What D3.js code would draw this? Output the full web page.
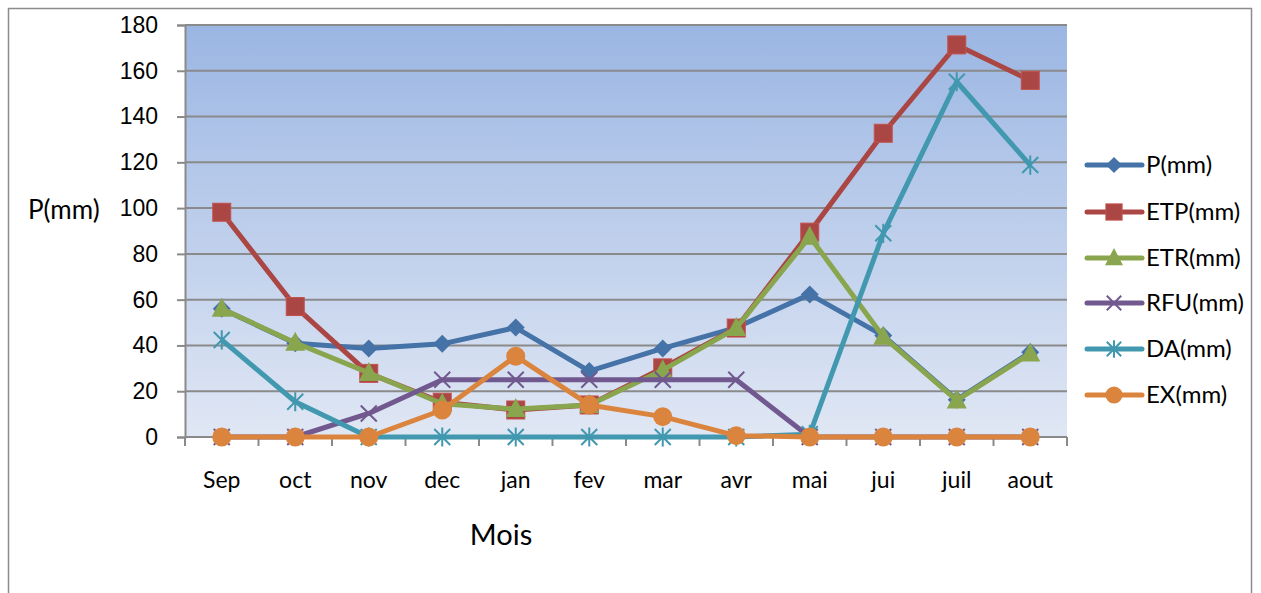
<!DOCTYPE html>
<html>
<head>
<meta charset="utf-8">
<script src="https://cdn.jsdelivr.net/npm/d3@7"></script>
<style>
  html, body { margin: 0; padding: 0; background: #fff; }
  svg { display: block; font-family: Lato, "Open Sans", "Liberation Sans", sans-serif; }
</style>
</head>
<body>
<svg id="chart" width="1261" height="593"></svg>
<script>
// Monthly water balance (mm)
const months = ["Sep", "oct", "nov", "dec", "jan", "fev", "mar", "avr", "mai", "jui", "juil", "aout"];
const P   = [56, 41, 38.7, 40.7, 47.8, 28.8, 38.7, 47.8, 62.3, 44.3, 16.3, 37];
const ETP = [98.2, 57, 27.8, 15.2, 11.8, 14, 30.2, 47.6, 89.5, 132.7, 171.3, 155.8];
const ETR = [56, 41.2, 28, 14.5, 12.2, 14, 29.2, 47.6, 87.5, 43.8, 16, 36.5];
const RFU = [0, 0, 10.3, 25, 25, 25, 25, 25, 0, 0, 0, 0];
const DA  = [42.4, 15.4, 0, 0, 0, 0, 0, 0, 1.2, 89, 155.2, 118.8];
const EX  = [0, 0, 0, 11.8, 35.3, 14, 8.9, 0.6, 0, 0, 0, 0];
const yTicks = [0, 20, 40, 60, 80, 100, 120, 140, 160, 180];

const series = [
  { name: "P(mm)",   values: P,   color: "#4572a7", marker: "diamond" },
  { name: "ETP(mm)", values: ETP, color: "#aa4643", marker: "square" },
  { name: "ETR(mm)", values: ETR, color: "#89a54e", marker: "triangle" },
  { name: "RFU(mm)", values: RFU, color: "#71588f", marker: "x" },
  { name: "DA(mm)",  values: DA,  color: "#4198af", marker: "star" },
  { name: "EX(mm)",  values: EX,  color: "#db843d", marker: "circle" }
];

const svg = d3.select("#chart");
const plot = { left: 185, right: 1067, top: 25, bottom: 437 };

// outer chart frame
svg.append("rect")
  .attr("x", 8.5).attr("y", 8.5).attr("width", 1243).attr("height", 600)
  .attr("fill", "#fff").attr("stroke", "#8c8c8c").attr("stroke-width", 1.5);

const x = d3.scaleBand().domain(months).range([plot.left, plot.right]).padding(0);
const y = d3.scaleLinear().domain([0, 180]).range([plot.bottom, plot.top]);
const cx = m => x(m) + x.bandwidth() / 2;

// plot area gradient
const defs = svg.append("defs");
const grad = defs.append("linearGradient").attr("id", "bg").attr("x1", 0).attr("y1", 0).attr("x2", 0).attr("y2", 1);
grad.append("stop").attr("offset", "0%").attr("stop-color", "#9bb6e3");
grad.append("stop").attr("offset", "100%").attr("stop-color", "#e0e7f4");

svg.append("rect")
  .attr("x", plot.left).attr("y", plot.top)
  .attr("width", plot.right - plot.left).attr("height", plot.bottom - plot.top)
  .attr("fill", "url(#bg)");

// horizontal gridlines
svg.append("g").selectAll("line").data(yTicks.filter(d => d > 0)).join("line")
  .attr("x1", plot.left).attr("x2", plot.right)
  .attr("y1", d => y(d)).attr("y2", d => y(d))
  .attr("stroke", "#8a8a8a").attr("stroke-width", 2);

// y axis
const yAxis = d3.axisLeft(y).tickValues(yTicks).tickSize(8).tickPadding(19);
const gy = svg.append("g").attr("transform", `translate(${plot.left},0)`).call(yAxis);
gy.select(".domain").attr("stroke", "#8a8a8a").attr("stroke-width", 2);
gy.selectAll(".tick line").attr("stroke", "#8a8a8a").attr("stroke-width", 2);
gy.selectAll(".tick text").attr("font-size", 23).attr("fill", "#000").attr("font-family", "inherit");

// x axis: ticks sit between categories
const gx = svg.append("g").attr("transform", `translate(0,${plot.bottom})`);
gx.append("line").attr("x1", plot.left).attr("x2", plot.right)
  .attr("y1", 0).attr("y2", 0).attr("stroke", "#8a8a8a").attr("stroke-width", 2);
const bounds = months.map(m => x(m)).concat([plot.right]);
gx.selectAll("line.tk").data(bounds).join("line").attr("class", "tk")
  .attr("x1", d => d).attr("x2", d => d).attr("y1", 0).attr("y2", 9)
  .attr("stroke", "#8a8a8a").attr("stroke-width", 2);
gx.selectAll("text").data(months).join("text")
  .attr("x", d => cx(d)).attr("y", 51)
  .attr("text-anchor", "middle").attr("font-size", 23).attr("fill", "#000")
  .text(d => d);

// axis titles
svg.append("text").attr("x", 501).attr("y", 545).attr("text-anchor", "middle")
  .attr("font-size", 29).attr("fill", "#000").text("Mois");
svg.append("text").attr("x", 28).attr("y", 219)
  .attr("font-size", 26).attr("fill", "#000").text("P(mm)");

// marker shapes
function drawMarker(g, type, color, px, py, scale = 1) {
  const s = scale;
  if (type === "diamond") {
    g.append("path").attr("d", `M${px},${py - 9 * s}L${px + 9 * s},${py}L${px},${py + 9 * s}L${px - 9 * s},${py}Z`)
      .attr("fill", color);
  } else if (type === "square") {
    g.append("rect").attr("x", px - 9 * s).attr("y", py - 9 * s).attr("width", 18 * s).attr("height", 18 * s)
      .attr("fill", color).attr("stroke", d3.color(color).brighter(0.4)).attr("stroke-width", 1);
  } else if (type === "triangle") {
    g.append("path").attr("d", `M${px},${py - 11 * s}L${px + 10 * s},${py + 8 * s}L${px - 10 * s},${py + 8 * s}Z`)
      .attr("fill", color);
  } else if (type === "x") {
    const r = 8 * s;
    g.append("path").attr("d", `M${px - r},${py - r}L${px + r},${py + r}M${px - r},${py + r}L${px + r},${py - r}`)
      .attr("stroke", color).attr("stroke-width", 2).attr("fill", "none");
  } else if (type === "star") {
    const r = 8 * s;
    g.append("path").attr("d", `M${px - r},${py - r}L${px + r},${py + r}M${px - r},${py + r}L${px + r},${py - r}M${px},${py - r * 1.2}L${px},${py + r * 1.2}`)
      .attr("stroke", color).attr("stroke-width", 2).attr("fill", "none");
  } else if (type === "circle") {
    g.append("circle").attr("cx", px).attr("cy", py).attr("r", 9.5 * s).attr("fill", color);
  }
}

const line = d3.line().x((d, i) => cx(months[i])).y(d => y(d));

series.forEach(s => {
  const g = svg.append("g");
  g.append("path").datum(s.values).attr("d", line)
    .attr("fill", "none").attr("stroke", s.color).attr("stroke-width", 5)
    .attr("stroke-linejoin", "round");
  s.values.forEach((v, i) => drawMarker(g, s.marker, s.color, cx(months[i]), y(v)));
});

// legend
const legendY = [165, 212, 258, 303, 349, 395];
series.forEach((s, i) => {
  const g = svg.append("g");
  const ly = legendY[i];
  g.append("line").attr("x1", 1087).attr("x2", 1142).attr("y1", ly).attr("y2", ly)
    .attr("stroke", s.color).attr("stroke-width", 5).attr("stroke-linecap", "round");
  drawMarker(g, s.marker, s.color, 1114, ly, 0.9);
  g.append("text").attr("x", 1146).attr("y", ly + 8).attr("font-size", 24).attr("fill", "#000").text(s.name);
});
</script>
</body>
</html>
